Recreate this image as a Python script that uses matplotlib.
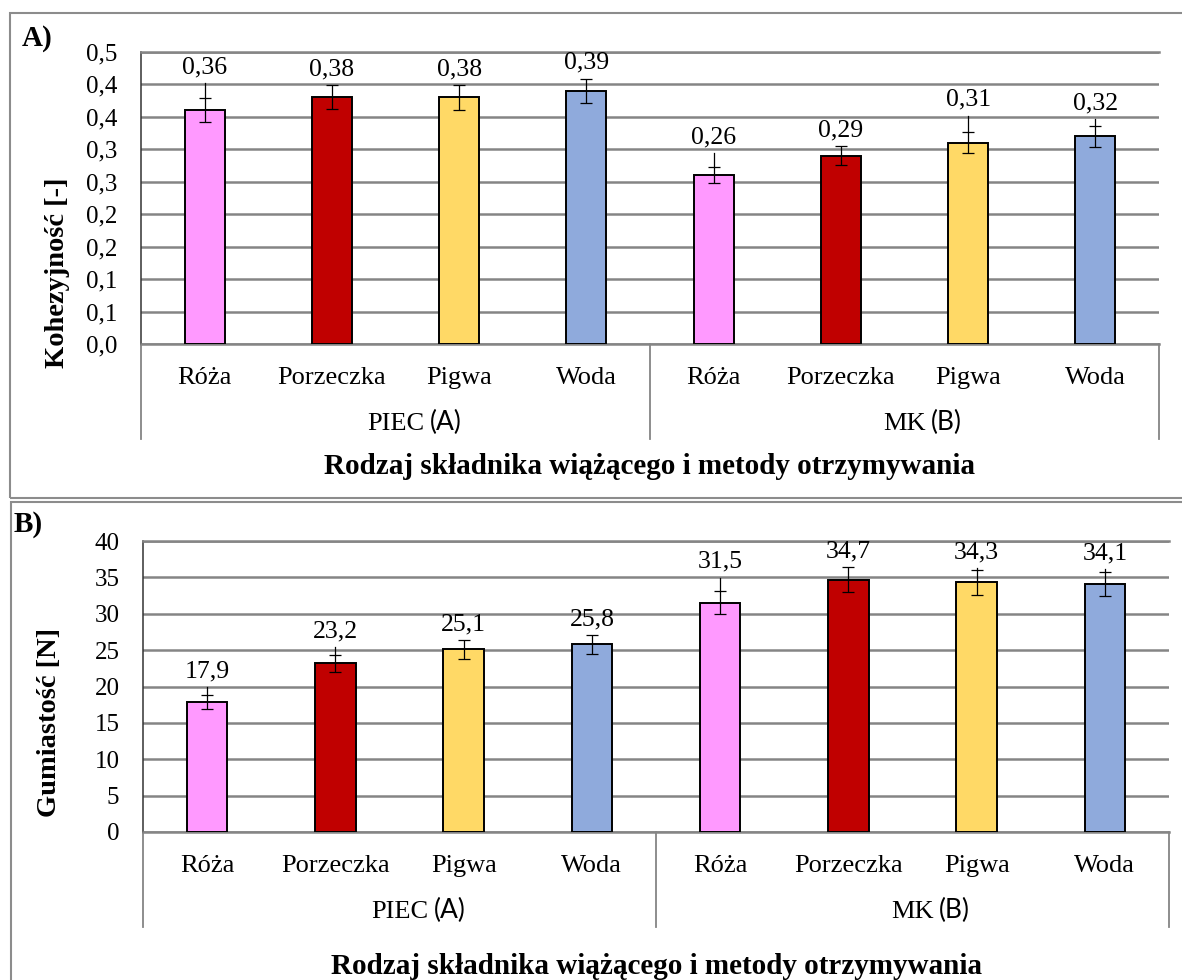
import matplotlib
matplotlib.use('Agg')
import matplotlib.pyplot as plt
from matplotlib.patches import Rectangle
from matplotlib.transforms import offset_copy

# canvas size in pixels (dpi 100)
W, H = 1182, 980
DPI = 100

categories = ['Róża', 'Porzeczka', 'Pigwa', 'Woda', 'Róża', 'Porzeczka', 'Pigwa', 'Woda']
groups = ['PIEC', 'MK']
group_tags = ['(A)', '(B)']
bar_colors = ['#FF99FF', '#C00000', '#FFD966', '#8FAADC'] * 2

# A) cohesiveness
coh_values = [0.36, 0.38, 0.38, 0.39, 0.26, 0.29, 0.31, 0.32]
coh_errors = [0.0185, 0.0185, 0.019, 0.019, 0.0125, 0.0146, 0.016, 0.016]
coh_leaders = [0.023, 0, 0, 0, 0.0216, 0, 0.026, 0.011]
coh_ticks = [0, 0.05, 0.10, 0.15, 0.20, 0.25, 0.30, 0.35, 0.40, 0.45]
coh_ticklabels = ['0,0', '0,1', '0,1', '0,2', '0,2', '0,3', '0,3', '0,4', '0,4', '0,5']

# B) gumminess
gum_values = [17.9, 23.2, 25.1, 25.8, 31.5, 34.7, 34.3, 34.1]
gum_errors = [0.96, 1.17, 1.3, 1.3, 1.58, 1.72, 1.72, 1.65]
gum_leaders = [1.1, 1.0, 0, 0, 1.9, 0, 0.3, 0.4]
gum_ticks = [0, 5, 10, 15, 20, 25, 30, 35, 40]
gum_ticklabels = ['0', '5', '10', '15', '20', '25', '30', '35', '40']

x_title = 'Rodzaj składnika wiążącego i metody otrzymywania'

SERIF = 'Liberation Serif'
SANS = 'Lato'
GRID = '#858585'


def fbox(x0, y0, x1, y1):
    """pixel box (top-left origin) -> figure fraction rect"""
    return [x0 / W, 1 - y1 / H, (x1 - x0) / W, (y1 - y0) / H]


def draw_panel(fig, rect_px, values, errors, leaders, ticks, ticklabels, fmt):
    ax = fig.add_axes(fbox(*rect_px))
    axh = rect_px[3] - rect_px[1]
    x = list(range(len(values)))

    ax.bar(x, values, width=0.315, color=bar_colors, edgecolor='black',
           linewidth=1.4, zorder=3)
    ax.errorbar(x, values, yerr=errors, fmt='none', ecolor='black',
                elinewidth=0.9, capsize=4.3, capthick=0.9, zorder=4)

    # leader lines and value labels
    for xi, v, e, l in zip(x, values, errors, leaders):
        top = v + e + l
        if l > 0:
            ax.plot([xi, xi], [v + e, top], color='black', lw=0.9, zorder=4)
        ax.annotate(fmt(v), xy=(xi, top), xytext=(0, 7),
                    textcoords='offset points', ha='center', va='baseline',
                    fontsize=18.5, family=SERIF, annotation_clip=False)

    ax.set_xlim(-0.5, len(values) - 0.5)
    ax.set_ylim(ticks[0], ticks[-1])
    ax.set_yticks(ticks)
    ax.set_yticklabels(ticklabels, family=SERIF, fontsize=18)
    ax.set_xticks([])
    ax.tick_params(axis='y', length=0, pad=17)
    ax.yaxis.grid(True, color=GRID, lw=1.8)
    ax.set_axisbelow(True)
    for s in ['top', 'bottom']:
        ax.spines[s].set_color(GRID)
        ax.spines[s].set_linewidth(1.8)
    ax.spines['right'].set_visible(False)
    ax.spines['left'].set_color('#333333')
    ax.spines['left'].set_linewidth(1.1)

    # two-level category axis
    trans = ax.get_xaxis_transform()
    cat_tr = offset_copy(trans, fig=fig, y=-34, units='dots')
    for xi, c in zip(x, categories):
        ax.text(xi, 0, c, transform=cat_tr, ha='center', va='center',
                fontsize=19, family=SERIF)
    grp_tr = offset_copy(trans, fig=fig, y=-80, units='dots')
    for gi, (g, tag) in enumerate(zip(groups, group_tags)):
        gx = gi * 4 + 1.5
        t = ax.text(gx, 0, g, transform=grp_tr, ha='center', va='center',
                    fontsize=19, family=SERIF)
        ax.annotate(tag, xy=(1, 0), xycoords=t, xytext=(4, 0),
                    textcoords='offset points', ha='left', va='bottom',
                    fontsize=19, family=SANS)
    for sx in [-0.5, 3.5, 7.5]:
        ax.plot([sx, sx], [0, -95 / axh], transform=trans, color=GRID,
                lw=1.3, clip_on=False)
    return ax


fig = plt.figure(figsize=(W / DPI, H / DPI), dpi=DPI)

# panel frames
fig.add_artist(Rectangle((10 / W, 1 - 498 / H), 1.2, (498 - 13) / H,
                         transform=fig.transFigure, fill=False,
                         edgecolor='#8C8C8C', lw=1.5))
fig.add_artist(Rectangle((11 / W, -0.1), 1.2, 0.1 + 1 - 502 / H,
                         transform=fig.transFigure, fill=False,
                         edgecolor='#8C8C8C', lw=1.5))

axA = draw_panel(fig, (141, 52, 1159, 344), coh_values, coh_errors, coh_leaders,
                 coh_ticks, coh_ticklabels, lambda v: f'{v:.2f}'.replace('.', ','))
axB = draw_panel(fig, (143, 541, 1169, 832), gum_values, gum_errors, gum_leaders,
                 gum_ticks, gum_ticklabels, lambda v: f'{v:.1f}'.replace('.', ','))

# axis titles
axA.text(0.5, 0, x_title, transform=offset_copy(axA.transAxes, fig=fig, y=-122, units='dots'),
         ha='center', va='center', fontsize=21, fontweight='bold', family=SERIF)
axB.text(0.5, 0, x_title, transform=offset_copy(axB.transAxes, fig=fig, y=-135, units='dots'),
         ha='center', va='center', fontsize=21, fontweight='bold', family=SERIF)

fig.text(58 / W, 1 - 273 / H, 'Kohezyjność [-]', rotation=90, ha='center', va='center',
         fontsize=20.5, fontweight='bold', family=SERIF)
fig.text(50 / W, 1 - 722 / H, 'Gumiastość [N]', rotation=90, ha='center', va='center',
         fontsize=20.5, fontweight='bold', family=SERIF)

fig.text(37 / W, 1 - 39 / H, 'A)', ha='center', va='center',
         fontsize=21, fontweight='bold', family=SERIF)
fig.text(28 / W, 1 - 524 / H, 'B)', ha='center', va='center',
         fontsize=21, fontweight='bold', family=SERIF)

fig.savefig('out.png', dpi=DPI)
